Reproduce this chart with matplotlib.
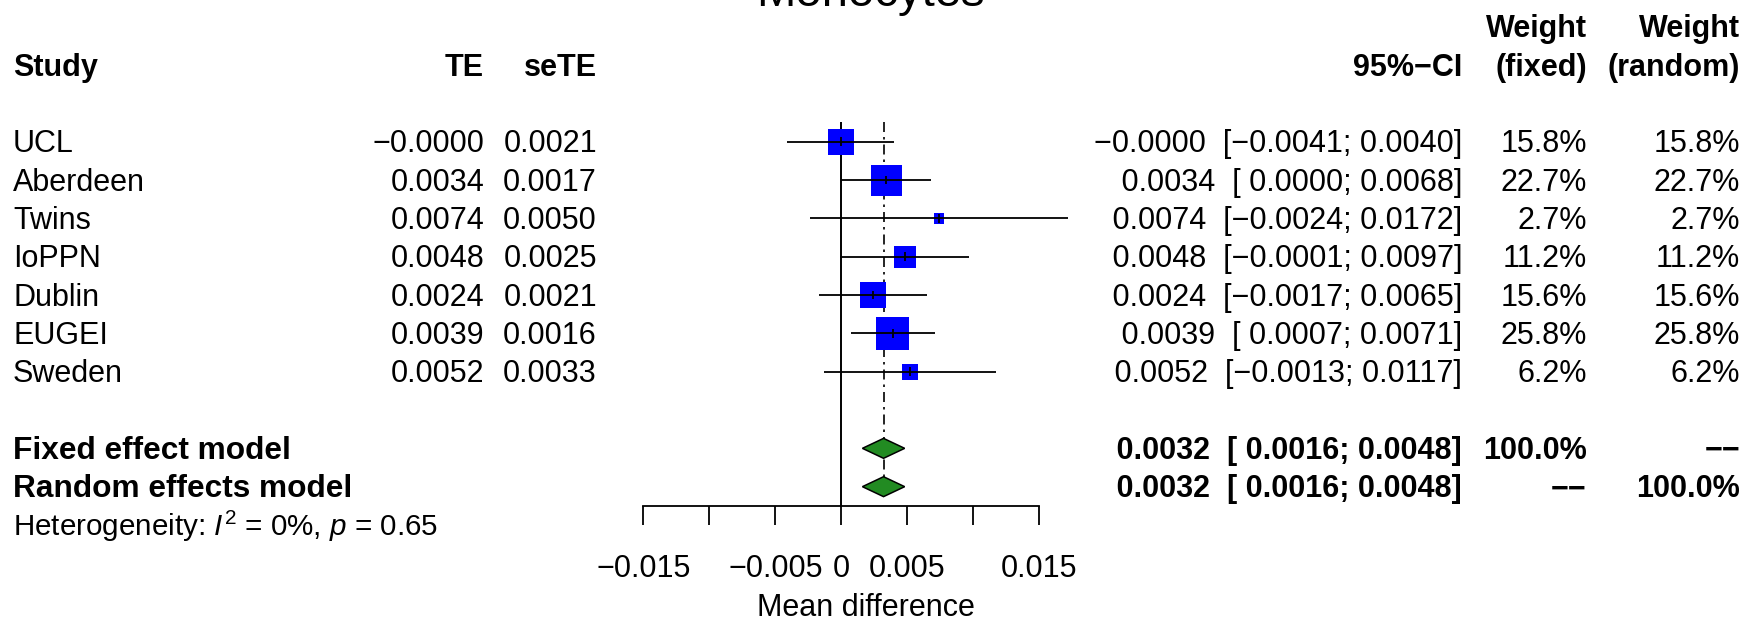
import matplotlib
matplotlib.use('Agg')
import matplotlib.pyplot as plt
from matplotlib.patches import Polygon

plt.rcParams['font.family'] = ['Liberation Sans', 'DejaVu Sans']
plt.rcParams['mathtext.fontset'] = 'custom'
plt.rcParams['mathtext.rm'] = 'Liberation Sans'
plt.rcParams['mathtext.it'] = 'Liberation Sans:italic'
plt.rcParams['mathtext.bf'] = 'Liberation Sans:bold'

title = 'Monocytes'
studies = ['UCL', 'Aberdeen', 'Twins', 'IoPPN', 'Dublin', 'EUGEI', 'Sweden']
te = [-0.0, 0.0034, 0.0074, 0.0048, 0.0024, 0.0039, 0.0052]
sete = [0.0021, 0.0017, 0.0050, 0.0025, 0.0021, 0.0016, 0.0033]
ci_lo = [-0.0041, 0.0000, -0.0024, -0.0001, -0.0017, 0.0007, -0.0013]
ci_hi = [0.0040, 0.0068, 0.0172, 0.0097, 0.0065, 0.0071, 0.0117]
w_fixed = [15.8, 22.7, 2.7, 11.2, 15.6, 25.8, 6.2]
w_random = [15.8, 22.7, 2.7, 11.2, 15.6, 25.8, 6.2]

# pooled estimates (fixed, random)
pooled_names = ['Fixed effect model', 'Random effects model']
pooled_te = [0.0032, 0.0032]
pooled_lo = [0.0016, 0.0016]
pooled_hi = [0.0048, 0.0048]
pooled_wf = ['100.0%', '\u2212\u2212']
pooled_wr = ['\u2212\u2212', '100.0%']

het_text = 'Heterogeneity: $I^2$ = 0%, $p$ = 0.65'
xticks = [-0.015, -0.01, -0.005, 0, 0.005, 0.01, 0.015]
xticklabels = ['\u22120.015', '', '\u22120.005', '0', '0.005', '', '0.015']
xlabel = 'Mean difference'

# layout in pixels
W, H = 1764, 621
ROW0, ROWH = 141.7, 38.33
FS = 22
MINUS = '\u2212'


def fmt(v, width=0):
    return f'{v:{width}.4f}'.replace('-', MINUS)


def ci_str(t, lo, hi):
    return fmt(t, 7) + '  [' + fmt(lo, 7) + '; ' + fmt(hi) + ']'


def row_of(px):
    return (px - ROW0) / ROWH


fig = plt.figure(figsize=(W / 100, H / 100), dpi=100)

# text table axes covering the whole figure, y in row units
tab = fig.add_axes([0, 0, 1, 1])
tab.set_xlim(0, W)
tab.set_ylim(row_of(H), row_of(0))
tab.axis('off')

# forest axes
x0, x1 = 643.3, 1039.3
ytop, ybot = 100, 506
ax = fig.add_axes([x0 / W, (H - ybot) / H, (x1 - x0) / W, (ybot - ytop) / H])
ax.set_xlim(xticks[0], xticks[-1])
ax.set_ylim(row_of(ybot), row_of(ytop))
ax.patch.set_alpha(0)
for s in ['top', 'left', 'right']:
    ax.spines[s].set_visible(False)
ax.spines['bottom'].set_linewidth(1.3)
ax.set_yticks([])
ax.set_xticks(xticks)
ax.set_xticklabels(xticklabels, fontsize=FS)
ax.tick_params(axis='x', length=13.7, width=1.3, pad=21)
ax.set_xlabel(xlabel, fontsize=FS, labelpad=6)
ax.xaxis.set_label_coords((866 - x0) / (x1 - x0), -0.215)

BOFF = 0.28  # baseline offset (rows)
rows = list(range(len(studies)))

# zero line and fixed-effect line
ax.vlines(0, row_of(122), row_of(ybot), color='black', lw=1.4, clip_on=False)
ax.vlines(pooled_te[0], row_of(122), len(studies) + 2 - 0.26, color='black',
          lw=1.2, linestyles=(0, (6, 3, 1.5, 3)), zorder=1)

# study boxes and CIs
for i in rows:
    side = 6.5 * w_fixed[i] ** 0.5 * 0.72
    ax.scatter([te[i]], [i], s=side ** 2, marker='s', color='#0000FF',
               edgecolors='none', zorder=3, clip_on=False)
    ax.hlines(i, ci_lo[i], ci_hi[i], color='black', lw=1.3, zorder=4, clip_on=False)
    ax.vlines(te[i], i - 0.11, i + 0.11, color='black', lw=1.3, zorder=4)

# diamonds
for k in range(2):
    r = len(studies) + 1 + k
    poly = Polygon([[pooled_lo[k], r], [pooled_te[k], r - 0.26],
                    [pooled_hi[k], r], [pooled_te[k], r + 0.26]],
                   closed=True, facecolor='#228B22', edgecolor='black', lw=1.1, zorder=3)
    ax.add_patch(poly)

# column positions (pixels)
X_STUDY, X_TE, X_SE = 13, 484, 597
X_CI, X_WF, X_WR = 1462, 1587, 1740

# title
fig.text(870 / W, 1 - 6 / H, title, ha='center', va='baseline', fontsize=34)

# headers
hdr = dict(fontsize=FS, fontweight='bold', va='baseline')
tab.text(X_STUDY, -2 + BOFF, 'Study', ha='left', **hdr)
tab.text(X_TE, -2 + BOFF, 'TE', ha='right', **hdr)
tab.text(X_SE, -2 + BOFF, 'seTE', ha='right', **hdr)
tab.text(X_CI, -2 + BOFF, '95%\u2212CI', ha='right', **hdr)
tab.text(X_WF, -3 + BOFF, 'Weight', ha='right', **hdr)
tab.text(X_WF, -2 + BOFF, '(fixed)', ha='right', **hdr)
tab.text(X_WR, -3 + BOFF, 'Weight', ha='right', **hdr)
tab.text(X_WR, -2 + BOFF, '(random)', ha='right', **hdr)

# study rows
txt = dict(fontsize=FS, va='baseline')
for i in rows:
    y = i + BOFF
    tab.text(X_STUDY, y, studies[i], ha='left', **txt)
    tab.text(X_TE, y, fmt(te[i]), ha='right', **txt)
    tab.text(X_SE, y, fmt(sete[i]), ha='right', **txt)
    tab.text(X_CI, y, ci_str(te[i], ci_lo[i], ci_hi[i]), ha='right', **txt)
    tab.text(X_WF, y, f'{w_fixed[i]:.1f}%', ha='right', **txt)
    tab.text(X_WR, y, f'{w_random[i]:.1f}%', ha='right', **txt)

# pooled rows
for k in range(2):
    y = len(studies) + 1 + k + BOFF
    tab.text(X_STUDY, y, pooled_names[k], ha='left', fontsize=22.8, fontweight='bold', va='baseline')
    tab.text(X_CI, y, ci_str(pooled_te[k], pooled_lo[k], pooled_hi[k]), ha='right', **hdr)
    tab.text(X_WF, y, pooled_wf[k], ha='right', **hdr)
    tab.text(X_WR, y, pooled_wr[k], ha='right', **hdr)

tab.text(X_STUDY, len(studies) + 3.02 + BOFF, het_text, ha='left', fontsize=21.3, va='baseline')

fig.savefig('out.png', dpi=100)
